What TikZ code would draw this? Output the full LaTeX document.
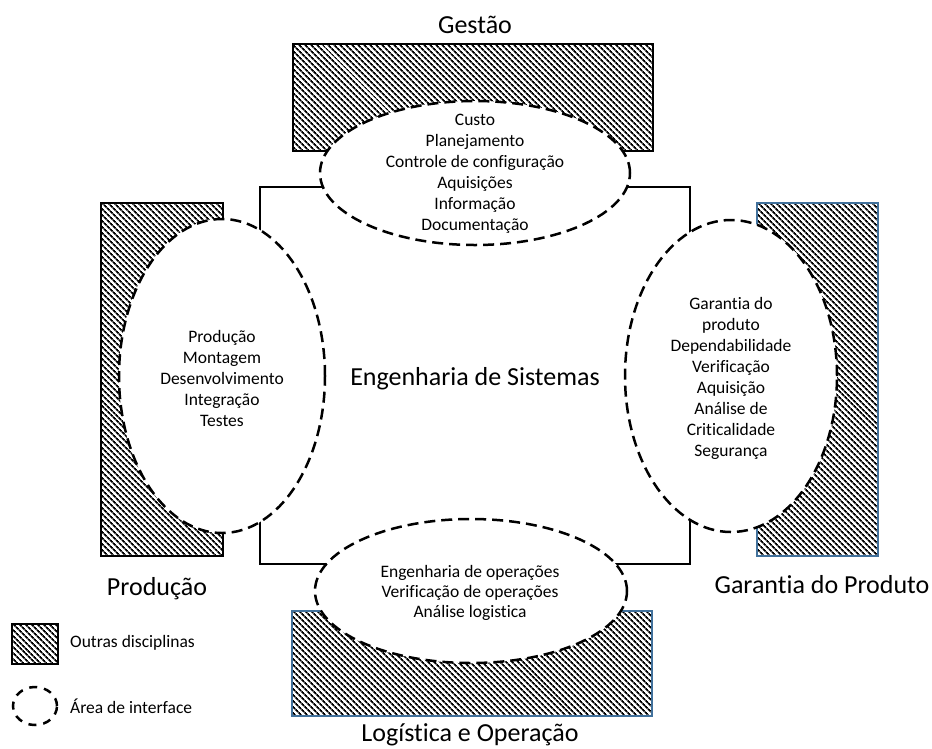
\documentclass[tikz,border=0pt]{standalone}
\usepackage{fontspec}
\setmainfont{Carlito}[Ligatures=NoCommon]
\usetikzlibrary{patterns.meta}
\definecolor{boxblue}{RGB}{65,113,156}
\tikzset{
  hatchbox/.style={pattern={Lines[angle=-45,distance=4pt,line width=1.9pt]},pattern color=black},
  blackedge/.style={hatchbox,draw=black,line width=2pt},
  blueedge/.style={hatchbox,draw=boxblue,line width=1.6pt},
  iface/.style={draw=black,fill=white,line width=2.5pt,dash pattern=on 11pt off 6pt},
  smalltxt/.style={align=center,inner sep=0pt,font=\fontsize{17.5}{21}\selectfont},
  bigtxt/.style={inner sep=0pt,anchor=base,font=\fontsize{26}{31}\selectfont},
  legtxt/.style={inner sep=0pt,anchor=west,font=\fontsize{17.5}{21}\selectfont},
}
\begin{document}
\begin{tikzpicture}[x=1pt,y=-1pt]
\useasboundingbox[fill=white] (0,0) rectangle (932,748);
% other disciplines (hatched boxes)
\path[blackedge] (293,44) rectangle (653,151);
\path[blackedge] (101,203) rectangle (223,556);
\path[blueedge] (757,203) rectangle (878,556);
\path[blueedge] (292,611) rectangle (652,716);
% systems engineering square
\draw[line width=2pt] (260,187) rectangle (690,564);
% interface areas
\draw[iface] (475,173) ellipse [x radius=155pt, y radius=72pt];
\draw[iface] (222,376) ellipse [x radius=103pt, y radius=157pt];
\draw[iface] (731,376) ellipse [x radius=106pt, y radius=156pt];
\draw[iface] (471,591) ellipse [x radius=156pt, y radius=72pt];
% texts in the ellipses
\node[smalltxt] (tgest) at (475,174) {Custo\\Planejamento\\Controle de configuração\\Aquisições\\Informação\\Documentação};
\node[smalltxt] (tprod) at (222,378) {Produção\\Montagem\\Desenvolvimento\\Integração\\Testes};
\node[smalltxt] (tgar) at (731,378) {Garantia do\\produto\\Dependabilidade\\Verificação\\Aquisição\\Análise de\\Criticalidade\\Segurança};
\node[smalltxt,font=\fontsize{17.5}{20}\selectfont] (tlog) at (470,593) {Engenharia de operações\\Verificação de operações\\Análise logistica};
% big labels
\node[bigtxt] (lgest) at (475,33) {Gestão};
\node[bigtxt] (lprod) at (157,595) {Produção};
\node[bigtxt] (lgar) at (822,593) {Garantia do Produto};
\node[bigtxt] (llog) at (470,741) {Logística e Operação};
\node[bigtxt] (lse) at (475,385) {Engenharia de Sistemas};
% legend
\path[hatchbox,draw=black,line width=2.5pt] (12,624) rectangle (58,664);
\node[legtxt] (leg1) at (70,643) {Outras disciplinas};
\draw[draw=black,line width=2.5pt,dash pattern=on 8pt off 7pt] (35,706) ellipse [x radius=22pt, y radius=19pt];
\node[legtxt] (leg2) at (70,706) {Área de interface};
\end{tikzpicture}
\end{document}
